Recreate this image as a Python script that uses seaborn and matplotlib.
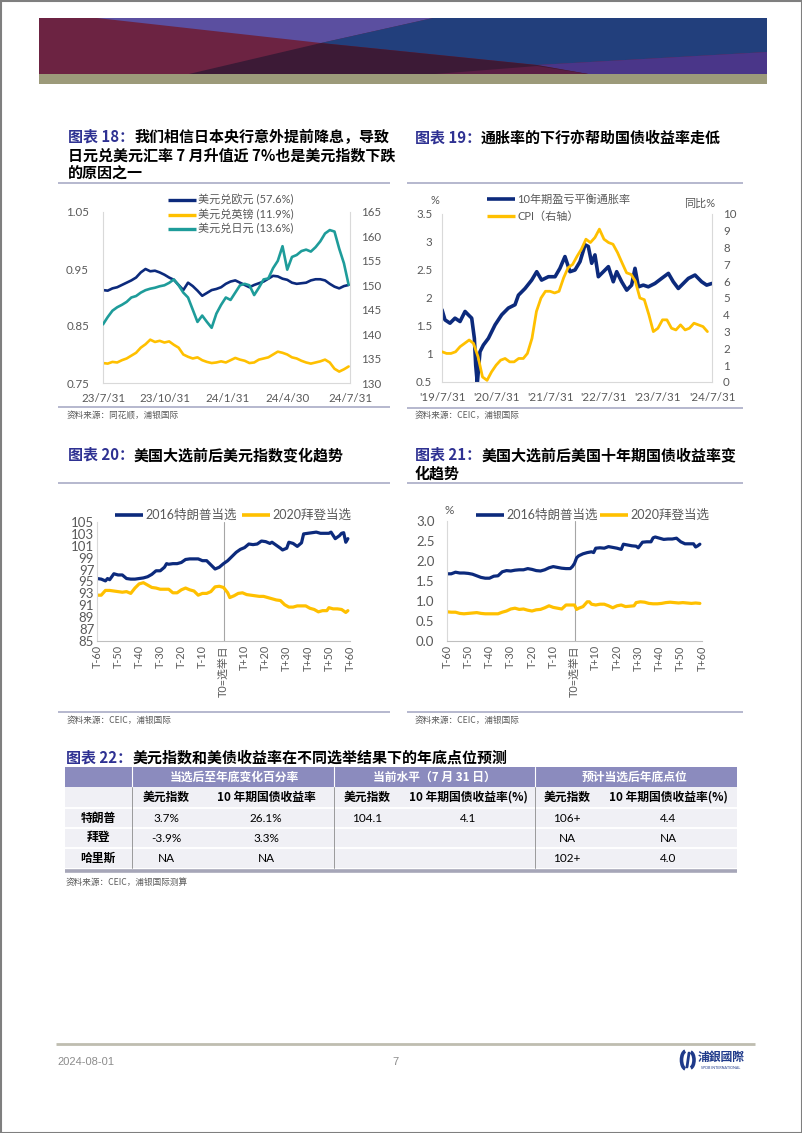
import pandas as pd
import matplotlib
matplotlib.use('Agg')
import matplotlib.pyplot as plt
from matplotlib.patches import Polygon, Rectangle, Arc
import seaborn as sns

# ---------------- data ----------------
# chart 18: weekly FX, starting 2023-07-31
fx_start = '2023-07-31'
usd_eur = [0.913, 0.912, 0.916, 0.918, 0.922, 0.926, 0.930, 0.935, 0.944, 0.950,
           0.946, 0.947, 0.944, 0.940, 0.935, 0.931, 0.922, 0.913, 0.926, 0.920,
           0.912, 0.903, 0.908, 0.913, 0.915, 0.918, 0.924, 0.928, 0.930, 0.926,
           0.922, 0.918, 0.922, 0.925, 0.928, 0.933, 0.938, 0.937, 0.933, 0.931,
           0.926, 0.924, 0.925, 0.926, 0.930, 0.932, 0.932, 0.930, 0.924, 0.919,
           0.916, 0.920, 0.922]
usd_gbp = [0.785, 0.784, 0.787, 0.786, 0.790, 0.793, 0.798, 0.803, 0.812, 0.818,
           0.826, 0.822, 0.824, 0.821, 0.823, 0.817, 0.812, 0.800, 0.796, 0.793,
           0.795, 0.790, 0.787, 0.785, 0.786, 0.788, 0.786, 0.790, 0.794, 0.791,
           0.789, 0.785, 0.786, 0.791, 0.793, 0.795, 0.800, 0.805, 0.803, 0.800,
           0.795, 0.793, 0.789, 0.786, 0.784, 0.786, 0.788, 0.791, 0.786, 0.775,
           0.770, 0.774, 0.779]
usd_jpy = [142.0, 143.5, 144.8, 145.5, 146.0, 146.6, 147.5, 147.8, 148.5, 149.0,
           149.3, 149.5, 149.8, 150.0, 150.5, 151.2, 150.0, 148.5, 147.5, 145.0,
           142.5, 143.8, 142.5, 141.3, 144.2, 146.0, 147.5, 147.0, 148.5, 150.0,
           150.3, 150.0, 148.0, 149.5, 151.2, 151.4, 153.5, 155.0, 158.0, 153.2,
           155.8, 156.2, 157.0, 157.3, 156.9, 157.8, 159.0, 160.6, 161.3, 161.0,
           157.5, 154.5, 150.1]
fx_ticks = ['2023-07-31', '2023-10-31', '2024-01-31', '2024-04-30', '2024-07-31']
fx_ticklabels = ['23/7/31', '23/10/31', '24/1/31', '24/4/30', '24/7/31']
fx_names = ['美元兑欧元 (57.6%)', '美元兑英镑 (11.9%)', '美元兑日元 (13.6%)']

# chart 19: 10y breakeven (daily, sampled) and CPI yoy (monthly from 2019-07)
bei_dates = ['2019-07-31', '2019-08-20', '2019-09-23', '2019-10-27', '2019-11-30',
             '2020-01-03', '2020-01-25', '2020-02-17', '2020-03-06', '2020-03-15',
             '2020-03-26', '2020-04-13', '2020-05-06', '2020-06-09', '2020-07-24',
             '2020-09-07', '2020-10-22', '2020-12-06', '2020-12-29', '2021-02-12',
             '2021-03-29', '2021-05-02', '2021-06-04', '2021-07-20', '2021-09-03',
             '2021-10-06', '2021-11-09', '2021-12-13', '2022-01-16', '2022-02-19',
             '2022-03-25', '2022-04-16', '2022-05-09', '2022-05-31', '2022-06-23',
             '2022-07-27', '2022-08-30', '2022-10-02', '2022-10-25', '2022-11-28',
             '2023-01-01', '2023-02-03', '2023-02-26', '2023-03-21', '2023-04-23',
             '2023-05-27', '2023-07-11', '2023-08-25', '2023-10-10', '2023-11-12',
             '2023-12-16', '2024-01-19', '2024-02-22', '2024-04-07', '2024-05-22',
             '2024-06-25', '2024-07-31']
bei_values = [1.79, 1.61, 1.55, 1.64, 1.58, 1.76, 1.70, 1.64, 1.28, 0.80,
              0.48, 1.04, 1.16, 1.28, 1.52, 1.70, 1.82, 1.88, 2.05, 2.17,
              2.32, 2.47, 2.32, 2.38, 2.38, 2.53, 2.74, 2.47, 2.50, 2.65,
              2.95, 2.92, 2.62, 2.77, 2.38, 2.47, 2.56, 2.29, 2.47, 2.29,
              2.14, 2.23, 2.53, 2.20, 2.23, 2.20, 2.26, 2.35, 2.44, 2.29,
              2.17, 2.26, 2.35, 2.41, 2.29, 2.23, 2.26]
cpi_start = '2019-07-01'
cpi_values = [1.8, 1.7, 1.7, 1.8, 2.1, 2.3,
              2.5, 2.3, 1.5, 0.3, 0.1, 0.6, 1.0, 1.3, 1.4, 1.2, 1.2, 1.4,
              1.4, 1.7, 2.6, 4.2, 5.0, 5.4, 5.4, 5.3, 5.4, 6.2, 6.8, 7.0,
              7.5, 7.9, 8.5, 8.3, 8.6, 9.1, 8.5, 8.3, 8.2, 7.7, 7.1, 6.5,
              6.4, 6.0, 5.0, 4.9, 4.0, 3.0, 3.2, 3.7, 3.7, 3.2, 3.1, 3.4,
              3.1, 3.2, 3.5, 3.4, 3.3, 3.0]
infl_ticks = ['2019-07-31', '2020-07-31', '2021-07-31', '2022-07-31', '2023-07-31', '2024-07-31']
infl_ticklabels = ["'19/7/31", "'20/7/31", "'21/7/31", "'22/7/31", "'23/7/31", "'24/7/31"]

# chart 20: DXY around election day (trading days)
t_dxy_2016 = [-60, -58, -56, -55, -54, -52, -50, -48, -46, -44, -42, -40, -38, -36, -34,
              -32, -30, -28, -27, -26, -24, -22, -20, -18, -16, -14, -12, -10, -8, -6,
              -4, -2, 0, 2, 4, 6, 8, 10, 12, 14, 16, 18, 20, 22, 23,
              25, 27, 28, 30, 31, 33, 35, 37, 38, 40, 42, 44, 46, 48, 50,
              51, 53, 55, 56, 57, 58, 59]
dxy_2016 = [95.5, 95.4, 95.1, 95.5, 95.3, 96.3, 96.1, 96.1, 95.5, 95.4, 95.4, 95.5, 95.6, 95.8, 96.2,
            96.8, 96.8, 97.4, 98.0, 97.9, 98.0, 98.0, 98.2, 98.7, 98.8, 98.8, 98.8, 98.5, 98.5, 97.8,
            97.1, 97.4, 98.0, 98.5, 99.2, 99.9, 100.4, 100.7, 101.3, 101.2, 101.3, 101.8, 101.7, 101.4, 101.6,
            101.1, 100.6, 100.3, 100.6, 101.6, 101.4, 100.9, 101.5, 103.0, 103.1, 103.2, 103.3, 103.1, 103.1, 103.1,
            103.3, 102.2, 102.7, 103.1, 103.2, 101.6, 102.2]
t_dxy_2020 = [-60, -58, -56, -54, -52, -50, -48, -46, -44, -42, -40, -38, -36, -34, -32,
              -30, -28, -26, -24, -22, -20, -18, -16, -14, -12, -10, -8, -6, -4, -2,
              0, 2, 3, 5, 7, 9, 11, 13, 15, 17, 19, 21, 23, 25, 27,
              29, 31, 33, 35, 37, 39, 41, 43, 45, 47, 49, 50, 52, 54, 56, 58, 59]
dxy_2020 = [92.7, 92.7, 93.5, 93.5, 93.4, 93.3, 93.2, 93.3, 93.0, 93.9, 94.6, 94.8, 94.4, 94.0, 93.9,
            93.7, 93.7, 93.7, 93.1, 93.1, 93.6, 93.9, 93.6, 93.4, 92.7, 93.0, 93.0, 93.3, 94.1, 94.2,
            94.0, 93.1, 92.3, 92.6, 93.0, 93.1, 92.8, 92.7, 92.6, 92.5, 92.5, 92.3, 92.1, 91.9, 91.8,
            91.1, 90.7, 90.7, 90.9, 90.9, 90.9, 90.5, 90.3, 89.9, 90.1, 90.1, 90.6, 90.4, 90.4, 90.3, 89.8, 90.1]

# chart 21: US 10y yield around election day
t_ust_2016 = [-60, -58, -56, -54, -52, -50, -48, -46, -44, -42, -40, -38, -36, -34, -32,
              -30, -28, -26, -24, -22, -20, -18, -16, -14, -12, -10, -8, -6, -4, -2,
              -1, 0, 1, 2, 4, 6, 8, 9, 10, 12, 14, 16, 18, 20, 22,
              23, 25, 27, 29, 30, 32, 34, 36, 37, 38, 40, 42, 44, 46, 48,
              50, 52, 54, 56, 57, 58, 59]
ust_2016 = [1.68, 1.68, 1.72, 1.70, 1.70, 1.69, 1.67, 1.63, 1.59, 1.57, 1.57, 1.62, 1.63, 1.73, 1.76,
            1.75, 1.77, 1.78, 1.78, 1.81, 1.79, 1.76, 1.75, 1.78, 1.83, 1.86, 1.84, 1.82, 1.81, 1.81,
            1.86, 1.94, 2.08, 2.13, 2.18, 2.21, 2.23, 2.21, 2.32, 2.33, 2.32, 2.36, 2.34, 2.32, 2.29,
            2.42, 2.40, 2.38, 2.37, 2.33, 2.47, 2.48, 2.48, 2.58, 2.60, 2.57, 2.54, 2.55, 2.55, 2.57,
            2.48, 2.43, 2.43, 2.43, 2.35, 2.38, 2.42]
t_ust_2020 = [-60, -58, -56, -54, -52, -50, -48, -46, -44, -42, -40, -38, -36, -34, -32,
              -30, -28, -26, -24, -22, -20, -18, -16, -14, -12, -10, -8, -6, -4, -2,
              0, 1, 2, 4, 6, 7, 8, 10, 12, 14, 16, 18, 20, 22, 24,
              26, 28, 29, 31, 33, 35, 37, 39, 41, 43, 45, 47, 49, 51, 53, 55, 57, 59]
ust_2020 = [0.73, 0.72, 0.72, 0.69, 0.68, 0.69, 0.70, 0.71, 0.69, 0.68, 0.68, 0.68, 0.68, 0.72, 0.75,
            0.80, 0.82, 0.79, 0.80, 0.77, 0.75, 0.78, 0.79, 0.83, 0.88, 0.84, 0.82, 0.80, 0.90, 0.90,
            0.90, 0.79, 0.82, 0.86, 0.98, 0.98, 0.92, 0.90, 0.92, 0.92, 0.88, 0.83, 0.88, 0.90, 0.86,
            0.87, 0.88, 0.96, 0.98, 0.97, 0.94, 0.93, 0.93, 0.94, 0.96, 0.97, 0.96, 0.95, 0.96, 0.95,
            0.94, 0.95, 0.94]
election_names = ['2016特朗普当选', '2020拜登当选']
t_ticks = [-60, -50, -40, -30, -20, -10, 0, 10, 20, 30, 40, 50, 60]
t_ticklabels = ['T-60', 'T-50', 'T-40', 'T-30', 'T-20', 'T-10', 'T0=选举日',
                'T+10', 'T+20', 'T+30', 'T+40', 'T+50', 'T+60']

# chart 22: table
tbl_groups = ['当选后至年底变化百分率', '当前水平（7 月 31 日）', '预计当选后年底点位']
tbl_subheads = ['美元指数', '10 年期国债收益率', '美元指数', '10 年期国债收益率(%)',
                '美元指数', '10 年期国债收益率(%)']
tbl_candidates = ['特朗普', '拜登', '哈里斯']
tbl_values = [['3.7%', '26.1%', '104.1', '4.1', '106+', '4.4'],
              ['-3.9%', '3.3%', '', '', 'NA', 'NA'],
              ['NA', 'NA', '', '', '102+', '4.0']]

# ---------------- style ----------------
NAVY = '#0C2A7C'
GOLD = '#FFC000'
TEAL = '#1E9C9A'
TITLE_BLUE = '#2E3192'
GREY_TXT = '#595959'
AXIS_GREY = '#D9D9D9'
SEP = '#A9ABC6'
CJK = 'Noto Sans CJK SC'

sns.set_style('white')
plt.rcParams['font.family'] = ['Lato', CJK, 'DejaVu Sans']

W, H = 802, 1133
fig = plt.figure(figsize=(W / 100, H / 100), dpi=100)
page = fig.add_axes([0, 0, 1, 1])
page.set_xlim(0, W)
page.set_ylim(H, 0)
page.axis('off')
renderer = fig.canvas.get_renderer()


def px_box(x0, y0, x1, y1):
    return [x0 / W, 1 - y1 / H, (x1 - x0) / W, (y1 - y0) / H]


def hline(x0, x1, y, color=SEP, lw=1.2):
    page.plot([x0, x1], [y, y], color=color, lw=lw, solid_capstyle='butt')


def title(x, y, num, lines):
    t = page.text(x, y, f'图表 {num}：', color=TITLE_BLUE, fontsize=10.8,
                  weight='bold', va='center', family=[CJK])
    x_end = t.get_window_extent(renderer=renderer).x1
    page.text(x_end, y, lines[0], color='black', fontsize=10.8, weight='bold',
              va='center', family=[CJK])
    for i, line in enumerate(lines[1:]):
        page.text(x, y + 18.5 * (i + 1), line, color='black', fontsize=10.8,
                  weight='bold', va='center', family=[CJK])


def legend_item(x, y, color, label, size, lw=2.4, length=28):
    page.plot([x, x + length], [y, y], color=color, lw=lw, solid_capstyle='butt')
    page.text(x + length + 2, y, label, color=GREY_TXT, fontsize=size, va='center')


def source(x, y, s):
    page.text(x, y, s, color=GREY_TXT, fontsize=6.2, va='center', family=[CJK])


def style_axes(ax, size, spines=('left', 'bottom'), color=AXIS_GREY):
    for side in ['left', 'right', 'top', 'bottom']:
        ax.spines[side].set_visible(side in spines)
        ax.spines[side].set_color(color)
        ax.spines[side].set_linewidth(0.8)
    ax.tick_params(length=0, labelsize=size, labelcolor=GREY_TXT)
    ax.set_xlabel('')
    ax.set_ylabel('')
    ax.grid(False)


# ---------------- header banner ----------------
page.add_patch(Rectangle((39, 18), 728, 56, color='#6C2342', lw=0))
page.add_patch(Polygon([(97, 18), (433, 18), (321, 43)], color='#5B4FA0', lw=0))
page.add_patch(Polygon([(433, 18), (767, 18), (767, 52), (537, 65), (321, 43)], color='#223F7C', lw=0))
page.add_patch(Polygon([(767, 52), (537, 65), (588, 74), (767, 74)], color='#4A3689', lw=0))
page.add_patch(Polygon([(321, 43), (537, 65), (588, 74), (189, 74)], color='#3C1A36', lw=0))
page.add_patch(Polygon([(435, 74), (537, 66), (588, 74)], color='#5A1E44', lw=0))
page.add_patch(Rectangle((39, 74), 728, 10, color='#9C9A7A', lw=0))

# ---------------- chart 18 ----------------
title(68, 137, 18, ['我们相信日本央行意外提前降息，导致',
                    '日元兑美元汇率 7 月升值近 7%也是美元指数下跌',
                    '的原因之一'])
hline(58, 390, 183)
fx_dates = pd.date_range(fx_start, periods=len(usd_eur), freq='7D')
ax18 = fig.add_axes(px_box(103, 212, 350, 383), facecolor='none')
sns.lineplot(x=fx_dates, y=usd_eur, ax=ax18, color=NAVY, lw=1.9)
sns.lineplot(x=fx_dates, y=usd_gbp, ax=ax18, color=GOLD, lw=1.9)
ax18r = ax18.twinx()
sns.lineplot(x=fx_dates, y=usd_jpy, ax=ax18r, color=TEAL, lw=1.9)
ax18.set_xlim(pd.Timestamp('2023-07-31'), pd.Timestamp('2024-07-31'))
ax18.set_ylim(0.75, 1.05)
ax18.set_yticks([0.75, 0.85, 0.95, 1.05])
ax18.set_yticklabels(['0.75', '0.85', '0.95', '1.05'])
ax18r.set_ylim(130, 165)
ax18r.set_yticks(range(130, 166, 5))
ax18.set_xticks(pd.to_datetime(fx_ticks))
ax18.set_xticklabels(fx_ticklabels)
style_axes(ax18, 8.3)
style_axes(ax18r, 8.3, spines=('right',))
ax18.tick_params(axis='y', pad=10)
ax18.tick_params(axis='x', pad=7)
ax18r.tick_params(axis='y', pad=8)
for (yy, col, name) in zip([200, 214.5, 229], [NAVY, GOLD, TEAL], fx_names):
    legend_item(168, yy, col, name, 8)
hline(58, 390, 407)
source(67, 415, '资料来源：同花顺，浦银国际')

# ---------------- chart 19 ----------------
title(415, 138, 19, ['通胀率的下行亦帮助国债收益率走低'])
hline(407, 743, 183)
cpi_dates = pd.date_range(cpi_start, periods=len(cpi_values), freq='MS') + pd.offsets.MonthEnd(0)
ax19 = fig.add_axes(px_box(442, 214, 712, 382), facecolor='none')
sns.lineplot(x=pd.to_datetime(bei_dates), y=bei_values, ax=ax19, color=NAVY, lw=2.6)
ax19r = ax19.twinx()
sns.lineplot(x=cpi_dates, y=cpi_values, ax=ax19r, color=GOLD, lw=2.0)
ax19.set_xlim(pd.Timestamp('2019-07-31'), pd.Timestamp('2024-07-31'))
ax19.set_ylim(0.5, 3.5)
left_ticks = [0.5, 1, 1.5, 2, 2.5, 3, 3.5]
ax19.set_yticks(left_ticks)
ax19.set_yticklabels([f'{v:g}' for v in left_ticks])
ax19r.set_ylim(0, 10)
ax19r.set_yticks(range(0, 11))
ax19.set_xticks(pd.to_datetime(infl_ticks))
ax19.set_xticklabels(infl_ticklabels)
style_axes(ax19, 8.3)
style_axes(ax19r, 8.3, spines=('right',))
ax19.tick_params(axis='y', pad=7)
ax19.tick_params(axis='x', pad=7)
ax19r.tick_params(axis='y', pad=8)
page.text(435, 201, '%', color=GREY_TXT, fontsize=8, ha='center', va='center')
page.text(700, 203, '同比%', color=GREY_TXT, fontsize=8, ha='center', va='center')
legend_item(487, 199, NAVY, '10年期盈亏平衡通胀率', 8, lw=2.6)
legend_item(487, 216, GOLD, 'CPI（右轴）', 8)
hline(407, 743, 408)
source(415, 415, '资料来源：CEIC，浦银国际')

# ---------------- chart 20 ----------------
title(68, 455, 20, ['美国大选前后美元指数变化趋势'])
hline(58, 390, 483)
ax20 = fig.add_axes(px_box(97, 522, 350, 641), facecolor='none')
sns.lineplot(x=t_dxy_2016, y=dxy_2016, ax=ax20, color=NAVY, lw=2.3)
sns.lineplot(x=t_dxy_2020, y=dxy_2020, ax=ax20, color=GOLD, lw=2.3)
ax20.axvline(0, color='#A6A6A6', lw=0.8, zorder=0)
ax20.set_xlim(-60, 60)
ax20.set_ylim(85, 105)
ax20.set_yticks(range(85, 106, 2))
ax20.set_xticks(t_ticks)
ax20.set_xticklabels(t_ticklabels, rotation=90)
style_axes(ax20, 9.5)
ax20.spines['bottom'].set_color('#BFBFBF')
ax20.tick_params(axis='y', pad=2)
ax20.tick_params(axis='x', labelsize=7.8, pad=3)
legend_item(115, 515, NAVY, election_names[0], 9, lw=2.6)
legend_item(242, 515, GOLD, election_names[1], 9, lw=2.6)
hline(58, 390, 712)
source(67, 720, '资料来源：CEIC，浦银国际')

# ---------------- chart 21 ----------------
title(415, 455, 21, ['美国大选前后美国十年期国债收益率变', '化趋势'])
hline(407, 743, 483)
ax21 = fig.add_axes(px_box(447, 521, 702, 641), facecolor='none')
sns.lineplot(x=t_ust_2016, y=ust_2016, ax=ax21, color=NAVY, lw=2.3)
sns.lineplot(x=t_ust_2020, y=ust_2020, ax=ax21, color=GOLD, lw=2.3)
ax21.axvline(0, color='#A6A6A6', lw=0.8, zorder=0)
ax21.set_xlim(-60, 60)
ax21.set_ylim(0, 3.0)
yt = [0, 0.5, 1.0, 1.5, 2.0, 2.5, 3.0]
ax21.set_yticks(yt)
ax21.set_yticklabels([f'{v:.1f}' for v in yt])
ax21.set_xticks(t_ticks)
ax21.set_xticklabels(t_ticklabels, rotation=90)
style_axes(ax21, 9.5)
ax21.spines['bottom'].set_color('#BFBFBF')
ax21.tick_params(axis='y', pad=9)
ax21.tick_params(axis='x', labelsize=7.8, pad=3)
page.text(449, 511, '%', color=GREY_TXT, fontsize=8.5, ha='center', va='center')
legend_item(476, 515, NAVY, election_names[0], 9, lw=2.6)
legend_item(600, 515, GOLD, election_names[1], 9, lw=2.6)
hline(407, 743, 712)
source(415, 720, '资料来源：CEIC，浦银国际')

# ---------------- table 22 ----------------
title(66, 758, 22, ['美元指数和美债收益率在不同选举结果下的年底点位预测'])
tx0, tx1 = 65, 737
row_y = [767, 787, 808, 828, 848, 868]
group_x = [132, 334, 535]
group_cx = [234, 434, 635]
col_cx = [166, 266, 367, 468, 567, 668]
label_cx = 98
page.add_patch(Rectangle((tx0, row_y[0]), tx1 - tx0, row_y[1] - row_y[0], color='#8B8BBE', lw=0))
page.add_patch(Rectangle((tx0, row_y[1]), tx1 - tx0, row_y[-1] - row_y[1], color='#F0F0F5', lw=0))
for yy in row_y[2:-1]:
    hline(tx0, tx1, yy, color='white', lw=1.4)
for xx in group_x:
    page.plot([xx, xx], [row_y[0], row_y[1]], color='white', lw=0.8)
    page.plot([xx, xx], [row_y[1], row_y[-1]], color='#8C8C8C', lw=0.6)
hline(tx0, tx1, 871, color='#A6A6B8', lw=2.6)
for cx, g in zip(group_cx, tbl_groups):
    page.text(cx, (row_y[0] + row_y[1]) / 2, g, color='white', fontsize=8.5, weight='bold',
              ha='center', va='center', family=[CJK])
for cx, s in zip(col_cx, tbl_subheads):
    page.text(cx, (row_y[1] + row_y[2]) / 2, s, color='black', fontsize=8.5, weight='bold',
              ha='center', va='center', family=[CJK])
for i, (name, vals) in enumerate(zip(tbl_candidates, tbl_values)):
    yc = (row_y[2 + i] + row_y[3 + i]) / 2
    page.text(label_cx, yc, name, color='black', fontsize=8.5, weight='bold',
              ha='center', va='center', family=[CJK])
    for cx, v in zip(col_cx, vals):
        page.text(cx, yc, v, color='black', fontsize=8.5, ha='center', va='center')
source(66, 882, '资料来源：CEIC，浦银国际测算')

# ---------------- footer ----------------
hline(56, 755, 1044, color='#BFBDB0', lw=2)
foot_font = ['Liberation Sans Narrow', 'Liberation Sans']
page.text(57, 1062, '2024-08-01', color='#8C8C8C', fontsize=8, va='center', family=foot_font)
page.text(395, 1062, '7', color='#8C8C8C', fontsize=8, ha='center', va='center', family=foot_font)
page.add_patch(Arc((686, 1060), 9, 18, theta1=95, theta2=265, color='#1F3A8A', lw=2.6))
page.add_patch(Arc((690, 1060), 8, 16, theta1=-85, theta2=85, color='#1F3A8A', lw=2.6))
page.plot([689, 687], [1053, 1067], color='#1F3A8A', lw=2.0)
page.text(721, 1057, '浦銀國際', color='#1F3A8A', fontsize=8.5, weight='bold',
          ha='center', va='center', family=['Noto Sans CJK TC'])
page.text(721, 1068, 'SPDB INTERNATIONAL', color='#1F3A8A', fontsize=2.6,
          ha='center', va='center')

# page border
page.add_patch(Rectangle((0.5, 0.5), W - 1, H - 1, fill=False, edgecolor='#7F7F7F', lw=1.5))

fig.savefig('out.png', dpi=100, facecolor='white')
